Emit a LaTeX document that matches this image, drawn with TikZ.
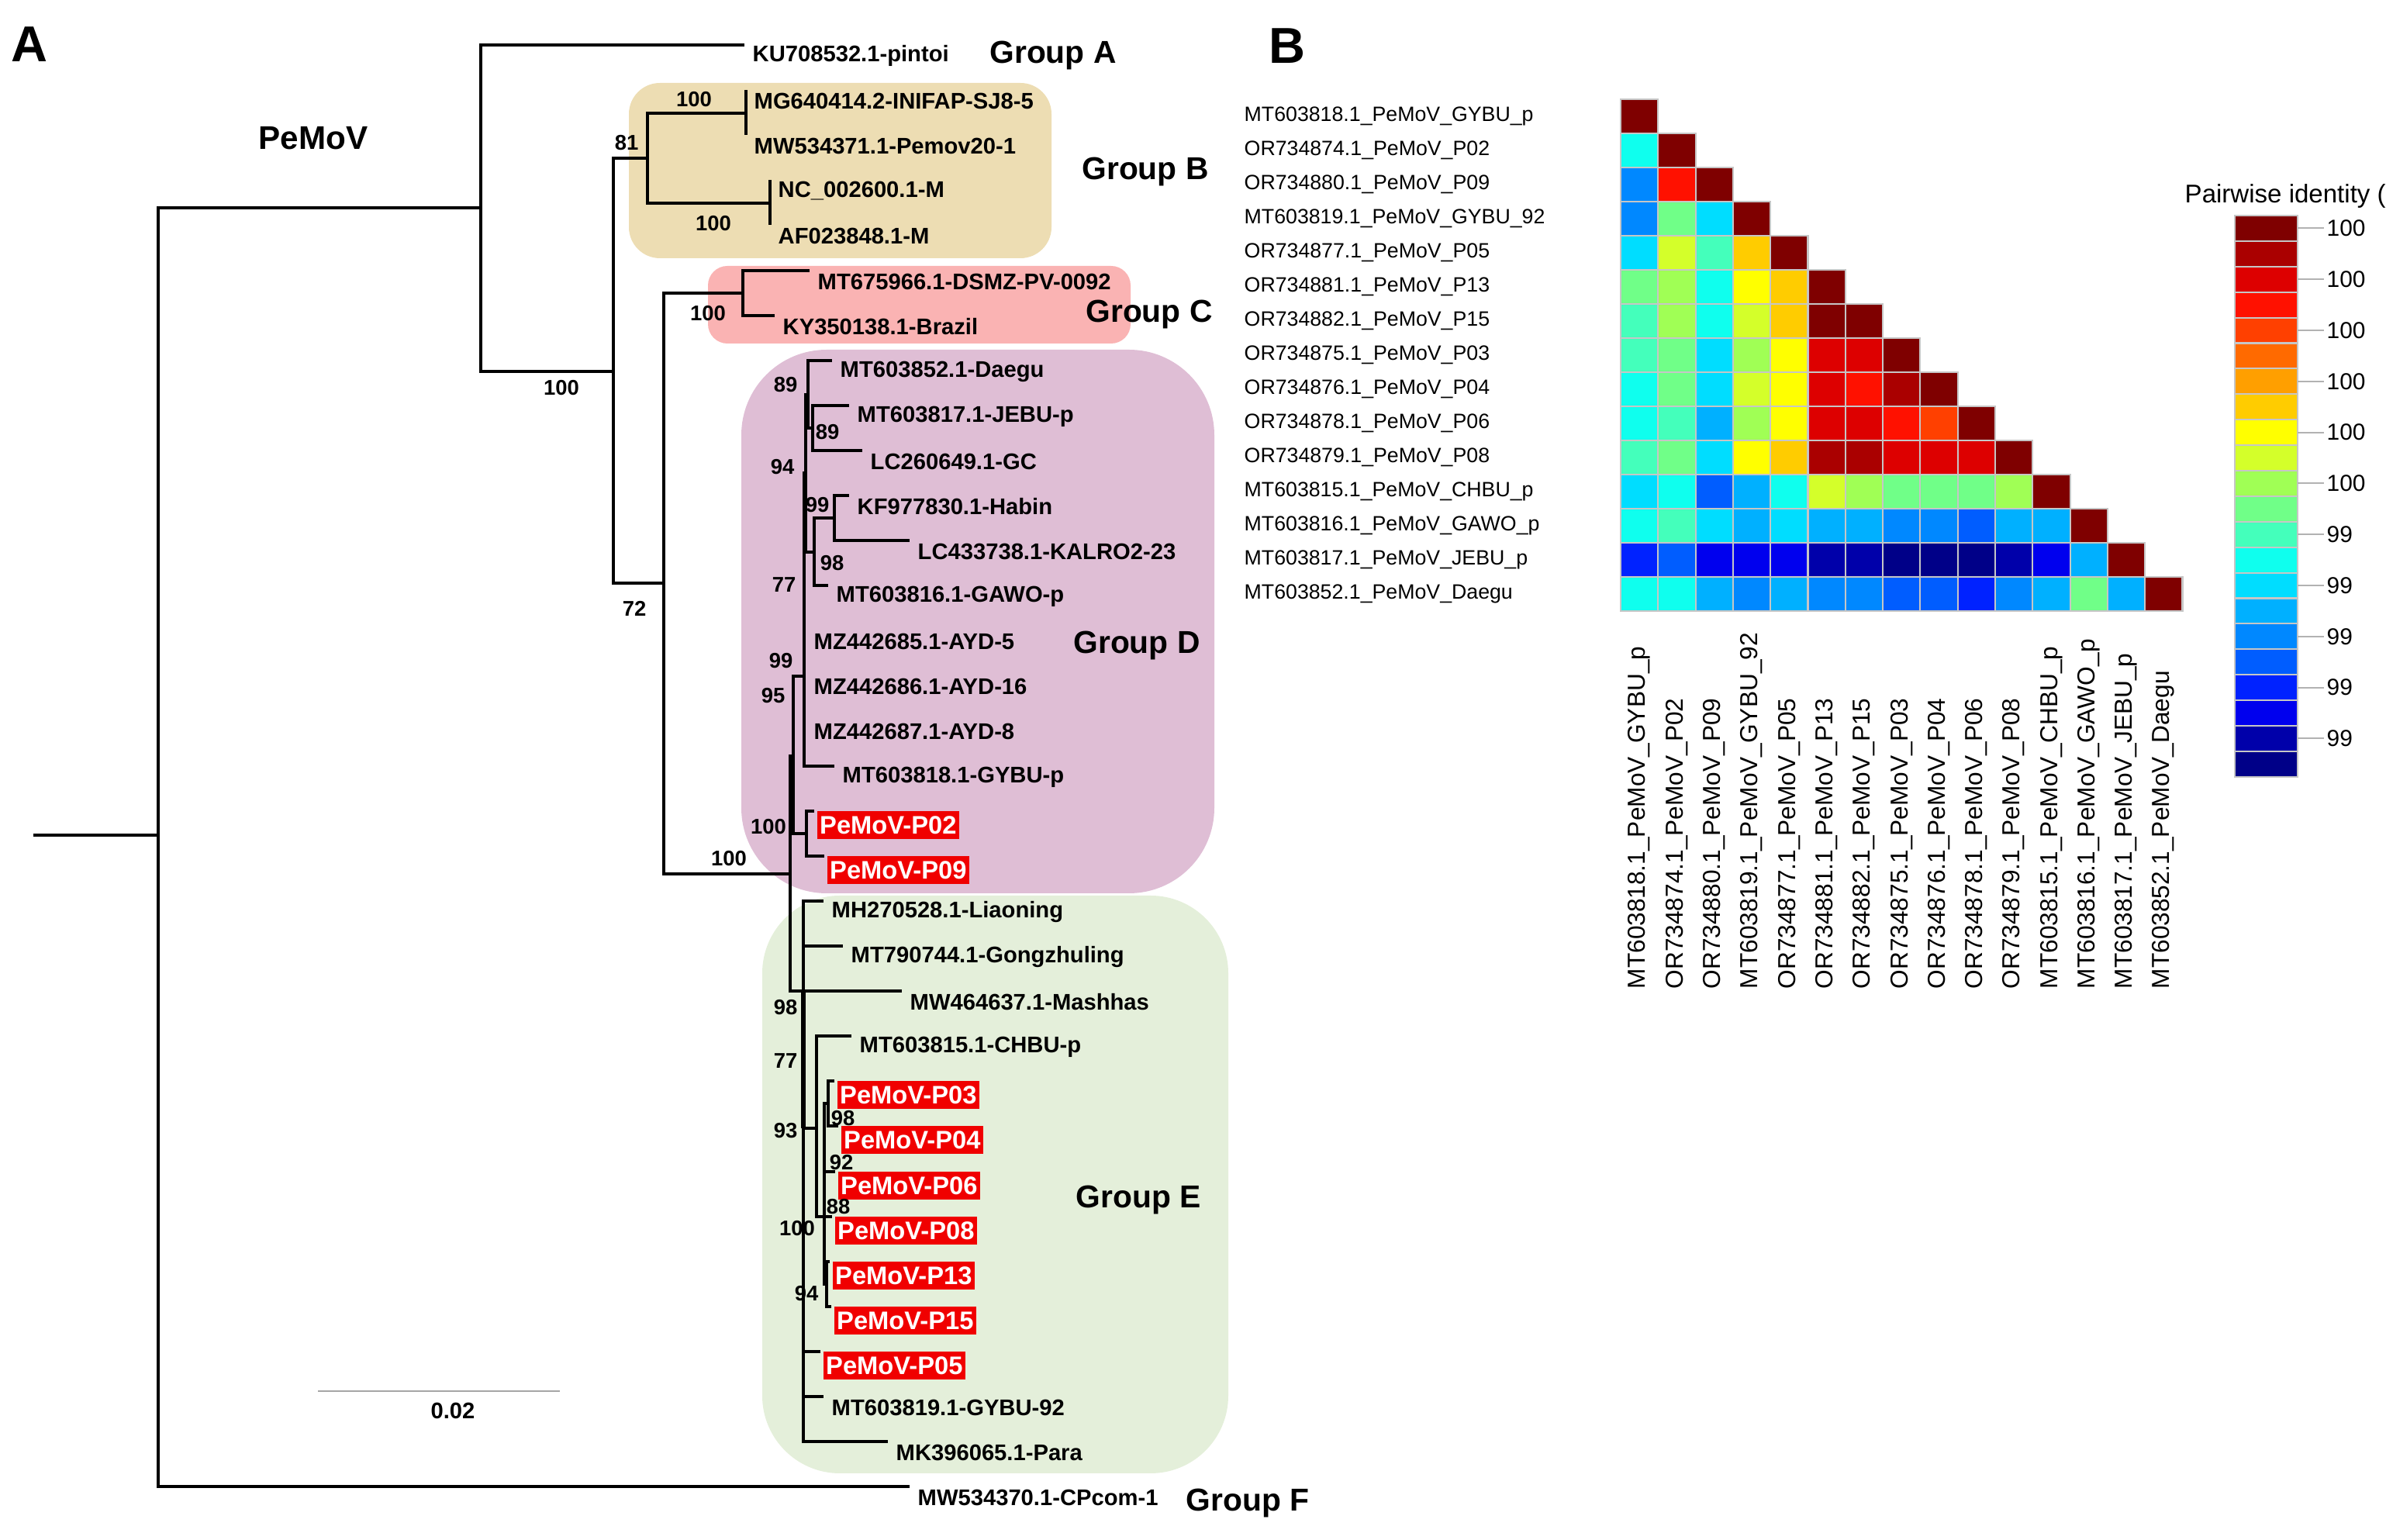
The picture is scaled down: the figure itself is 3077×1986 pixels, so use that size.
\documentclass[tikz,border=0pt]{standalone}
\usepackage{fontspec}
\setmainfont{Liberation Sans}
\usepackage{tikz}

% fonts
\newcommand{\leaffont}{\fontsize{8.3pt}{10pt}\selectfont\bfseries}
\newcommand{\pfont}{\fontsize{9.3pt}{11pt}\selectfont\bfseries}
\newcommand{\bootfont}{\fontsize{7.8pt}{9pt}\selectfont\bfseries}
\newcommand{\grpfont}{\fontsize{11.6pt}{13pt}\selectfont\bfseries}
\newcommand{\panelfont}{\fontsize{18.5pt}{20pt}\selectfont\bfseries}
\newcommand{\rowfont}{\fontsize{7.6pt}{9pt}\selectfont}
\newcommand{\colfont}{\fontsize{9.0pt}{10pt}\selectfont}
\newcommand{\legfont}{\fontsize{8.5pt}{10pt}\selectfont}

% group boxes
\definecolor{grpB}{HTML}{EDDDB3}
\definecolor{grpC}{HTML}{FAB3B3}
\definecolor{grpD}{HTML}{DFBED5}
\definecolor{grpE}{HTML}{E4EFDA}
\definecolor{pred}{HTML}{F00000}
% identity palette
\definecolor{p1}{HTML}{7F0000}
\definecolor{p2}{HTML}{AA0000}
\definecolor{p3}{HTML}{DD0000}
\definecolor{p4}{HTML}{FF1100}
\definecolor{p5}{HTML}{FF4000}
\definecolor{p6}{HTML}{FF6A00}
\definecolor{p7}{HTML}{FF9F00}
\definecolor{p8}{HTML}{FFCC00}
\definecolor{p9}{HTML}{FFFF00}
\definecolor{p10}{HTML}{D4FF2A}
\definecolor{p11}{HTML}{A0FF55}
\definecolor{p12}{HTML}{70FF88}
\definecolor{p13}{HTML}{44FFBB}
\definecolor{p14}{HTML}{0FFFEE}
\definecolor{p15}{HTML}{00DDFF}
\definecolor{p16}{HTML}{00B0FF}
\definecolor{p17}{HTML}{0088FF}
\definecolor{p18}{HTML}{005DFF}
\definecolor{p19}{HTML}{0022FF}
\definecolor{p20}{HTML}{0000EE}
\definecolor{p21}{HTML}{0000AA}
\definecolor{p22}{HTML}{000088}

\begin{document}
\begin{tikzpicture}[x=0.01cm, y=-0.01cm,
    branch/.style={line width=0.9pt},
    stack/.style={line width=1.8pt},
    leaf/.style={anchor=west, inner sep=0pt, xshift=0.1cm, yshift=-0.14cm, font=\leaffont},
    pleaf/.style={anchor=west, inner xsep=1pt, inner ysep=2pt, text depth=0pt, xshift=0.03cm, yshift=-0.18cm, fill=pred, text=white, font=\pfont},
    boot/.style={inner sep=0pt, font=\bootfont},
    grp/.style={inner sep=0pt, font=\grpfont},
    panel/.style={inner sep=0pt, font=\panelfont},
    cell/.style={draw=gray!45, line width=0.6pt},
    rowlab/.style={anchor=west, inner sep=0pt, font=\rowfont},
    collab/.style={anchor=west, rotate=90, inner sep=0pt, font=\colfont},
    legtick/.style={draw=gray!60, line width=0.6pt, shorten >=0.03cm},
    leglab/.style={anchor=west, inner sep=0pt, font=\legfont},
    scalebar/.style={draw=gray!70, line width=0.6pt}]

    \useasboundingbox (0,0) rectangle (3077,1986);

    %%PANEL A
    % Group boxes
    \fill[grpB, rounded corners=0.4cm] (811,107) rectangle (1356,333);
    \fill[grpC, rounded corners=0.25cm] (913,343) rectangle (1458,443);
    \fill[grpD, rounded corners=1.1cm] (956,451) rectangle (1566,1152);
    \fill[grpE, rounded corners=1.0cm] (983,1155) rectangle (1584,1900);

    % Internal nodes
    \coordinate (stem) at (43,1077);
    \coordinate (root) at (204,1077);
    \coordinate (N1) at (620,268);
    \coordinate (N2) at (791,479);
    \coordinate (nB) at (835,204);
    \coordinate (Bt) at (962,146);
    \coordinate (Bb) at (993,262);
    \coordinate (N3) at (856,752);
    \coordinate (nC) at (958,378);
    \coordinate (DE) at (1019,1127);
    \coordinate (nD) at (1023,975);
    \coordinate (P0209) at (1040,1075);
    \coordinate (Dup) at (1037,872);
    \coordinate (n94) at (1039,610);
    \coordinate (n89a) at (1042,509);
    \coordinate (n89b) at (1048,552);
    \coordinate (n98) at (1050,712);
    \coordinate (n99) at (1076,668);
    \coordinate (Es) at (1036,1278);
    \coordinate (nCH) at (1053,1455);
    \coordinate (nR) at (1063,1569);
    \coordinate (n98e) at (1068,1423);
    \coordinate (n94e) at (1066,1656);

    % Tips
    \coordinate (tKU) at (960,58);
    \coordinate (tMG) at (962,116);
    \coordinate (tMW) at (962,174);
    \coordinate (tNC) at (993,232);
    \coordinate (tAF) at (993,290);
    \coordinate (tMT67) at (1044,349);
    \coordinate (tKY) at (999,407);
    \coordinate (tDaegu) at (1073,465);
    \coordinate (tJEBU) at (1095,523);
    \coordinate (tGC) at (1112,581);
    \coordinate (tHabin) at (1095,639);
    \coordinate (tKALRO) at (1173,697);
    \coordinate (tGAWO) at (1068,755);
    \coordinate (tAYD5) at (1039,813);
    \coordinate (tAYD16) at (1039,871);
    \coordinate (tAYD8) at (1039,929);
    \coordinate (tGYBUp) at (1076,988);
    \coordinate (tP02) at (1050,1046);
    \coordinate (tP09) at (1063,1104);
    \coordinate (tLiao) at (1062,1162);
    \coordinate (tGong) at (1087,1220);
    \coordinate (tMash) at (1163,1278);
    \coordinate (tCHBU) at (1098,1336);
    \coordinate (tP03) at (1076,1394);
    \coordinate (tP04) at (1081,1452);
    \coordinate (tP06) at (1077,1511);
    \coordinate (tP08) at (1073,1569);
    \coordinate (tP13) at (1070,1627);
    \coordinate (tP15) at (1072,1685);
    \coordinate (tP05) at (1058,1743);
    \coordinate (tGY92) at (1062,1801);
    \coordinate (tPara) at (1145,1859);
    \coordinate (tCP) at (1173,1917);

    % Branches
    \draw[branch] (stem) -- (root);
    \foreach \p/\c in {root/N1, root/tCP, N1/tKU, N1/N2, N2/nB, N2/N3,
        nB/Bt, nB/Bb, Bt/tMG, Bt/tMW, Bb/tNC, Bb/tAF,
        N3/nC, N3/DE, nC/tMT67, nC/tKY, DE/nD, DE/Es,
        nD/Dup, nD/P0209, P0209/tP02, P0209/tP09,
        Dup/n94, Dup/tAYD5, Dup/tAYD16, Dup/tAYD8, Dup/tGYBUp,
        n94/n89a, n94/n98, n89a/tDaegu, n89a/n89b, n89b/tJEBU, n89b/tGC,
        n98/n99, n98/tGAWO, n99/tHabin, n99/tKALRO,
        Es/tLiao, Es/tGong, Es/tMash, Es/nCH, Es/tP05, Es/tGY92, Es/tPara,
        nCH/tCHBU, nCH/nR, nR/n98e, nR/tP06, nR/tP08, nR/n94e,
        n98e/tP03, n98e/tP04, n94e/tP13, n94e/tP15}
        \draw[branch] (\p) |- (\c);
    % stacked nodes of group E
    \draw[stack] (Es) -- (Es |- nCH);

    % Leaf labels
    \foreach \t/\s in {tKU/KU708532.1-pintoi, tMG/MG640414.2-INIFAP-SJ8-5,
        tMW/MW534371.1-Pemov20-1, tNC/NC\_002600.1-M, tAF/AF023848.1-M,
        tMT67/MT675966.1-DSMZ-PV-0092, tKY/KY350138.1-Brazil,
        tDaegu/MT603852.1-Daegu, tJEBU/MT603817.1-JEBU-p, tGC/LC260649.1-GC,
        tHabin/KF977830.1-Habin, tKALRO/LC433738.1-KALRO2-23,
        tGAWO/MT603816.1-GAWO-p, tAYD5/MZ442685.1-AYD-5,
        tAYD16/MZ442686.1-AYD-16, tAYD8/MZ442687.1-AYD-8,
        tGYBUp/MT603818.1-GYBU-p, tLiao/MH270528.1-Liaoning,
        tGong/MT790744.1-Gongzhuling, tMash/MW464637.1-Mashhas,
        tCHBU/MT603815.1-CHBU-p, tGY92/MT603819.1-GYBU-92,
        tPara/MK396065.1-Para, tCP/MW534370.1-CPcom-1}
        \node[leaf] (l\t) at (\t) {\s};
    % Isolates of this study
    \foreach \t/\s in {tP02/PeMoV-P02, tP09/PeMoV-P09, tP03/PeMoV-P03,
        tP04/PeMoV-P04, tP06/PeMoV-P06, tP08/PeMoV-P08, tP13/PeMoV-P13,
        tP15/PeMoV-P15, tP05/PeMoV-P05}
        \node[pleaf] (l\t) at (\t) {\s};

    % Bootstrap values
    \foreach \x/\y/\b [count=\k] in {895/128/100, 808/184/81, 920/288/100,
        724/500/100, 818/785/72, 913/404/100, 940/1107/100, 991/1066/100,
        1013/496/89, 1067/557/89, 1009/602/94, 1054/651/99, 1073/726/98,
        1011/754/77, 1007/852/99, 997/897/95, 1013/1299/98, 1013/1368/77,
        1013/1458/93, 1087/1442/98, 1085/1499/92, 1081/1556/88,
        1028/1584/100, 1040/1668/94}
        \node[boot] (bs\k) at (\x,\y) {\b};

    % Group names
    \node[grp] (gA) at (1358,72) {Group A};
    \node[grp] (gB) at (1477,222) {Group B};
    \node[grp] (gC) at (1482,406) {Group C};
    \node[grp] (gD) at (1466,833) {Group D};
    \node[grp] (gE) at (1468,1547) {Group E};
    \node[grp] (gF) at (1609,1938) {Group F};
    \node[grp, font=\fontsize{12pt}{14pt}\selectfont\bfseries] (virus) at (404,178) {PeMoV};

    % Scale bar
    \coordinate (sb0) at (410,1794);
    \coordinate (sb1) at (722,1794);
    \draw[scalebar] (sb0) -- (sb1);
    \node[boot, font=\leaffont] (sblab) at (584,1819) {0.02};

    % Panel letters
    \node[panel] (pA) at (38,57) {A};
    \node[panel] (pB) at (1660,59) {B};

    %%PANEL B
    % Heat map cells (lower triangle)
    \foreach \vals [count=\i] in {{1},{14,1},{17,4,1},{17,12,15,1},{15,10,13,8,1},
        {12,11,14,9,8,1},{13,11,14,10,8,1,1},{13,12,15,11,9,3,3,1},
        {14,12,15,10,9,3,4,2,1},{14,13,16,11,9,3,3,4,5,1},
        {13,12,15,9,8,2,2,3,3,3,1},{15,14,18,16,14,10,11,12,12,12,11,1},
        {14,13,15,16,15,16,16,17,17,18,16,16,1},
        {19,18,20,20,20,21,21,22,22,22,21,20,16,1},
        {14,14,16,17,16,17,17,18,18,19,17,16,12,16,1}}
        \foreach \v [count=\j] in \vals
            \draw[cell, fill=p\v] ({2090+48.3*(\j-1)},{128+44*(\i-1)}) rectangle +(48.3,44);

    % Row and column labels
    \foreach \s [count=\i] in {MT603818.1\_PeMoV\_GYBU\_p, OR734874.1\_PeMoV\_P02,
        OR734880.1\_PeMoV\_P09, MT603819.1\_PeMoV\_GYBU\_92, OR734877.1\_PeMoV\_P05,
        OR734881.1\_PeMoV\_P13, OR734882.1\_PeMoV\_P15, OR734875.1\_PeMoV\_P03,
        OR734876.1\_PeMoV\_P04, OR734878.1\_PeMoV\_P06, OR734879.1\_PeMoV\_P08,
        MT603815.1\_PeMoV\_CHBU\_p, MT603816.1\_PeMoV\_GAWO\_p,
        MT603817.1\_PeMoV\_JEBU\_p, MT603852.1\_PeMoV\_Daegu}
    {
        \node[rowlab] (row\i) at (1604,{150+44*(\i-1)}) {\s};
        \node[collab] (col\i) at ({2114+48.3*(\i-1)},1276) {\s};
    }

    % Colour key
    \foreach \i in {1,...,22}
        \draw[cell, fill=p\i] (2882,{278+32.9*(\i-1)}) rectangle +(81,32.9);
    \foreach \i/\t in {1/100,3/100,5/100,7/100,9/100,11/100,13/99,15/99,17/99,19/99,21/99}
    {
        \coordinate (tk\i) at (2963,{278+32.9*(\i-0.5)});
        \node[leglab] (tl\i) at (3000,{278+32.9*(\i-0.5)}) {\t};
        \draw[legtick] (tk\i) -- (tl\i.west);
    }
    \begin{scope}
        \clip (0,0) rectangle (3077,1986);
        \node[leglab, font=\fontsize{9.4pt}{11pt}\selectfont] (keytitle) at (2817,253) {Pairwise identity (\%)};
    \end{scope}

\end{tikzpicture}
\end{document}
